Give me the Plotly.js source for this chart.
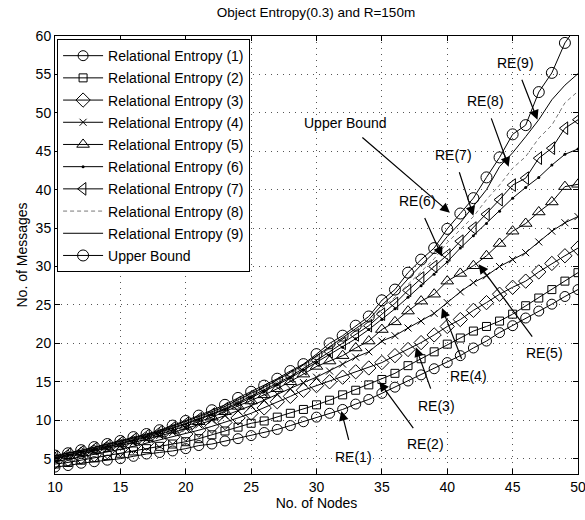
<!DOCTYPE html>
<html>
<head>
<meta charset="utf-8">
<script src="https://cdn.plot.ly/plotly-3.0.1.min.js"></script>
<style>html,body{margin:0;padding:0;background:#fff;}#chart{width:585px;height:520px;}</style>
</head>
<body>
<div id="chart"></div>
<script>
const nodes = [10,11,12,13,14,15,16,17,18,19,20,21,22,23,24,25,26,27,28,29,30,31,32,33,34,35,36,37,38,39,40,41,42,43,44,45,46,47,48,49,50];

const re1 = [3.9,4.1,4.4,4.6,4.8,5.0,5.3,5.6,5.8,6.0,6.3,6.7,6.9,7.3,7.6,8.0,8.4,8.8,9.3,9.8,10.4,10.9,11.4,12.1,12.7,13.5,14.3,15.1,15.9,16.7,17.5,18.4,19.4,20.3,21.4,22.3,23.3,24.2,25.1,26.1,27.0];
const re2 = [4.3,4.5,4.8,5.1,5.4,5.7,6.0,6.3,6.6,6.9,7.2,7.6,8.1,8.6,9.1,9.6,9.9,10.4,10.9,11.4,12.0,12.6,13.3,13.9,14.6,15.3,16.1,17.1,18.0,18.9,19.9,20.7,21.6,22.2,22.9,23.8,24.9,25.9,27.0,28.1,29.2];
const re3 = [4.6,4.9,5.2,5.5,5.9,6.2,6.6,7.0,7.4,7.8,8.2,8.7,9.2,9.7,10.3,10.9,11.6,12.4,13.1,13.9,14.5,15.0,15.6,16.3,16.8,17.5,18.4,19.2,20.1,21.1,22.2,23.1,24.3,25.3,26.4,27.3,28.1,29.3,30.4,31.4,32.4];
const re4 = [5.0,5.3,5.6,6.0,6.3,6.7,7.1,7.5,8.0,8.4,8.9,9.4,10.0,10.6,11.2,11.9,12.6,13.4,14.1,14.9,15.6,16.4,17.3,18.2,18.9,20.3,21.0,22.0,22.9,23.9,25.3,26.7,27.9,28.8,30.0,30.9,31.8,33.2,34.6,35.7,36.5];
const re5 = [5.1,5.4,5.8,6.1,6.5,6.9,7.3,7.7,8.2,8.7,9.2,9.8,10.4,11.1,11.8,12.5,13.3,14.1,15.0,16.0,17.0,17.7,18.4,19.4,20.3,21.8,22.8,24.2,25.5,26.4,28.1,29.1,30.1,31.4,33.0,34.6,35.6,37.1,38.4,40.4,40.7];
const re6 = [5.2,5.5,5.9,6.2,6.6,7.0,7.4,7.9,8.4,8.9,9.5,10.1,10.7,11.4,12.1,12.9,13.7,14.6,15.5,16.5,17.5,18.5,19.5,20.6,21.8,23.1,24.5,26.0,27.5,29.0,30.6,32.4,34.0,35.6,37.2,38.9,40.3,41.6,43.2,44.6,45.3];
const re7 = [5.2,5.6,5.9,6.3,6.7,7.1,7.5,8.0,8.5,9.0,9.6,10.2,10.8,11.5,12.3,13.1,13.9,14.8,15.7,16.7,17.8,18.9,20.0,21.1,22.3,23.8,25.2,26.9,28.5,30.0,31.5,33.3,35.0,36.8,38.7,40.6,41.5,44.1,45.4,48.0,49.1];
const re8 = [5.3,5.6,6.0,6.4,6.8,7.2,7.6,8.1,8.6,9.1,9.7,10.4,11.0,11.7,12.5,13.3,14.1,15.0,16.0,17.0,18.2,19.3,20.4,21.6,22.8,24.6,26.0,27.7,29.4,31.0,33.1,34.8,36.5,38.7,40.6,42.8,44.3,46.7,48.4,51.3,52.8];
const re9 = [5.3,5.7,6.0,6.4,6.8,7.2,7.7,8.1,8.6,9.2,9.8,10.5,11.1,11.8,12.7,13.5,14.3,15.2,16.2,17.2,18.4,19.6,20.7,21.9,23.1,25.0,26.5,28.4,30.2,31.8,33.9,35.7,37.8,40.0,43.0,44.8,46.9,49.1,51.7,53.6,55.1];
const upper = [5.4,5.7,6.1,6.5,6.9,7.3,7.8,8.2,8.7,9.3,9.9,10.6,11.3,12.0,12.9,13.7,14.5,15.4,16.4,17.3,18.6,20.0,21.0,22.3,23.5,25.6,27.0,29.2,30.9,32.4,34.9,36.9,38.9,41.6,44.2,47.2,48.4,52.7,55.2,59.1,61.5];

const seriesNames = ["Relational Entropy (1)","Relational Entropy (2)","Relational Entropy (3)","Relational Entropy (4)","Relational Entropy (5)","Relational Entropy (6)","Relational Entropy (7)","Relational Entropy (8)","Relational Entropy (9)","Upper Bound"];
const xTicks = [10,15,20,25,30,35,40,45,50];
const yTicks = [5,10,15,20,25,30,35,40,45,50,55,60];

// annotation labels: [text, headX, headY, textX, textY]
const labelText = ["RE(1)","RE(2)","RE(3)","RE(4)","RE(5)","RE(6)","RE(7)","RE(8)","RE(9)","Upper Bound"];
const labelHeadX = [31.9, 34.8, 37.6, 39.6, 42.4, 39.6, 42.0, 44.7, 46.9, 40.2];
const labelHeadY = [11.2, 15.0, 19.5, 24.6, 30.3, 31.3, 36.6, 43.0, 49.1, 37.0];
const labelTextX = [32.8, 38.3, 39.2, 41.6, 47.4, 37.7, 40.5, 42.9, 45.2, 32.2];
const labelTextY = [5.2, 6.9, 11.9, 15.8, 18.8, 38.5, 44.5, 51.5, 56.5, 48.7];

const data = [re1,re2,re3,re4,re5,re6,re7,re8,re9,upper];
const styles = [
  {mode:'lines+markers', marker:{symbol:'circle-open', size:10, color:'#000', line:{width:1,color:'#000'}}, line:{color:'#000', width:1}},
  {mode:'lines+markers', marker:{symbol:'square-open', size:8, color:'#000', line:{width:1,color:'#000'}}, line:{color:'#000', width:1}},
  {mode:'lines+markers', marker:{symbol:'diamond-open', size:11, color:'#000', line:{width:1,color:'#000'}}, line:{color:'#000', width:1}},
  {mode:'lines+markers', marker:{symbol:'x-thin-open', size:7, color:'#000', line:{width:1,color:'#000'}}, line:{color:'#000', width:1}},
  {mode:'lines+markers', marker:{symbol:'triangle-up-open', size:11, color:'#000', line:{width:1,color:'#000'}}, line:{color:'#000', width:1}},
  {mode:'lines+markers', marker:{symbol:'circle', size:3, color:'#000'}, line:{color:'#000', width:1}},
  {mode:'lines+markers', marker:{symbol:'triangle-left-open', size:11, color:'#000', line:{width:1,color:'#000'}}, line:{color:'#000', width:1}},
  {mode:'lines', line:{color:'#777', width:1, dash:'4px,3px'}},
  {mode:'lines', line:{color:'#000', width:1}},
  {mode:'lines+markers', marker:{symbol:'circle-open', size:11, color:'#000', line:{width:1,color:'#000'}}, line:{color:'#000', width:1}}
];

const traces = data.map((ys, i) => Object.assign({
  type:'scatter', x: nodes, y: ys, name: seriesNames[i], legendgroup: 'g'+i
}, styles[i]));

const annotations = labelText.map((t, i) => ({
  text: t, x: labelHeadX[i], y: labelHeadY[i], xref:'x', yref:'y',
  ax: labelTextX[i], ay: labelTextY[i], axref:'x', ayref:'y',
  showarrow: true, arrowhead: 2, arrowsize: 1.6, arrowwidth: 1.2, arrowcolor:'#000',
  standoff: 0, startstandoff: 8,
  font: {family:'Liberation Sans, Arial, sans-serif', size:14, color:'#000'},
  bgcolor: 'rgba(255,255,255,0)'
}));

const font = {family:'Liberation Sans, Arial, Helvetica, sans-serif', size:13, color:'#000'};

const layout = {
  width:585, height:520,
  margin:{l:55, r:7, t:36, b:46},
  paper_bgcolor:'#fff', plot_bgcolor:'#fff',
  font: font,
  title:{text:'Object Entropy(0.3) and R=150m', x:0.54, xanchor:'center', y:0.977, yanchor:'middle', font:{family:font.family, size:13.5, color:'#000'}},
  xaxis:{
    range:[10,50], tickvals:xTicks, ticktext:xTicks.map(String),
    ticks:'inside', ticklen:5, tickcolor:'#000', showline:true, linecolor:'#000', linewidth:1, mirror:'allticks',
    showgrid:true, gridcolor:'#555', griddash:'1px,5px', gridwidth:1, zeroline:false,
    ticklabeloverflow:'allow',
    tickfont:{family:font.family, size:14, color:'#000'},
    title:{text:'No. of Nodes', font:{family:font.family, size:14, color:'#000'}, standoff:2}
  },
  yaxis:{
    range:[3,60], tickvals:yTicks, ticktext:yTicks.map(String),
    ticks:'inside', ticklen:5, tickcolor:'#000', showline:true, linecolor:'#000', linewidth:1, mirror:'allticks',
    showgrid:true, gridcolor:'#555', griddash:'1px,5px', gridwidth:1, zeroline:false,
    tickfont:{family:font.family, size:14, color:'#000'},
    title:{text:'No. of Messages', font:{family:font.family, size:14, color:'#000'}, standoff:4}
  },
  legend:{
    x:0.004, y:0.993, xanchor:'left', yanchor:'top',
    bgcolor:'#fff', bordercolor:'#000', borderwidth:1,
    font:{family:font.family, size:14, color:'#000'},
    tracegroupgap:1, itemwidth:40
  },
  annotations: annotations,
  showlegend:true
};

Plotly.newPlot('chart', traces, layout, {displayModeBar:false, staticPlot:true});
</script>
</body>
</html>
